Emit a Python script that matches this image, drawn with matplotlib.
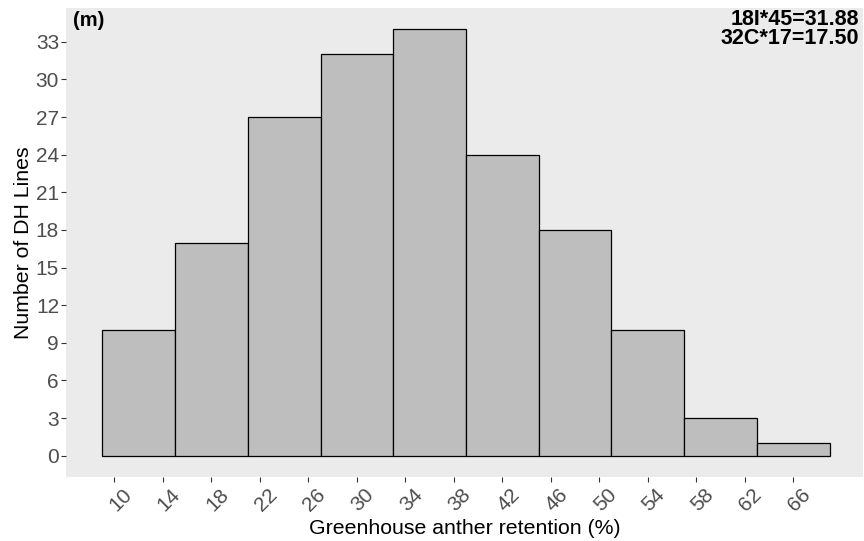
import matplotlib
matplotlib.use("Agg")
import matplotlib.pyplot as plt
import matplotlib.transforms as mtransforms

bin_starts = [9, 15, 21, 27, 33, 39, 45, 51, 57, 63]
bin_width = 6
counts = [10, 17, 27, 32, 34, 24, 18, 10, 3, 1]
x_ticks = list(range(10, 67, 4))
y_ticks = list(range(0, 34, 3))
panel_label = "(m)"
stats_lines = ["18I*45=31.88", "32C*17=17.50"]
xlabel = "Greenhouse anther retention (%)"
ylabel = "Number of DH Lines"

plt.rcParams['font.family'] = ['Liberation Sans', 'DejaVu Sans']

fig = plt.figure(figsize=(8.64, 5.41), dpi=100)
W, H = 864, 541
ax = fig.add_axes([66 / W, 64 / H, (863 - 66) / W, (533 - 64) / H])
ax.set_facecolor('#EBEBEB')
for s in ax.spines.values():
    s.set_visible(False)

ax.bar(bin_starts, counts, width=bin_width, align='edge', color='#BEBEBE',
       edgecolor='black', linewidth=0.9)

ax.set_xlim(6, 71.76)
ax.set_ylim(-1.7, 35.7)
ax.set_xticks(x_ticks)
ax.set_yticks(y_ticks)
ax.set_xticklabels([str(v) for v in x_ticks], rotation=45, ha='center', va='top')
ax.tick_params(axis='both', colors='#333333', length=3.5, width=0.8,
               labelsize=15, labelcolor='#4D4D4D')
ax.tick_params(axis='x', pad=2)
ax.tick_params(axis='y', pad=1.5)
offset = mtransforms.ScaledTranslation(6 / 100, 0, fig.dpi_scale_trans)
for lab in ax.get_xticklabels():
    lab.set_transform(lab.get_transform() + offset)

ax.set_xlabel(xlabel, fontsize=15.3, color='black', labelpad=3)
ax.set_ylabel(ylabel, fontsize=15.3, color='black', labelpad=2)

ax.text(0.009, 0.993, panel_label, transform=ax.transAxes, ha='left', va='top',
        fontsize=14.5, fontweight='bold', color='black')
ax.text(0.995, 0.997, "\n".join(stats_lines), transform=ax.transAxes,
        ha='right', va='top', multialignment='right', linespacing=0.82,
        fontsize=15.5, fontweight='bold', color='black')

fig.savefig('out.png', dpi=100)
